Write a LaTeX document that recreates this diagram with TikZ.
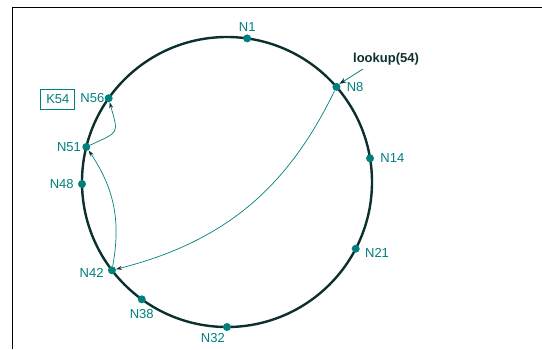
\documentclass[tikz,border=0pt]{standalone}
\usepackage{fontspec}
\setmainfont{Liberation Sans}
\usetikzlibrary{positioning, arrows.meta}
\definecolor{ringteal}{RGB}{0,128,124}
\definecolor{ringdark}{RGB}{12,48,48}

\begin{document}
\begin{tikzpicture}[x=1pt, y=1pt,
    every node/.style={font=\fontsize{13}{15}\selectfont},
    dot/.style={circle, fill=ringteal, inner sep=0pt, minimum size=8pt},
    lbl/.style={text=ringteal, inner sep=1pt},
    hop/.style={ringteal, line width=0.7pt, -{Stealth[length=6pt, width=4pt, color=ringdark]}}]
    \useasboundingbox (0,0) rectangle (542,-349);
    \draw[line width=1pt] (12,-349) -- (12,-7) -- (542,-7);

    % the ring
    \coordinate (c) at (227,-182);
    \draw[ringdark, line width=2.4pt] (c) circle (145);
    \foreach \nm/\ang in {n1/82, n8/41, n14/9.4, n21/-27.4, n32/-90, n38/234,
                          n42/217.5, n48/180.8, n51/166, n56/144.7}
        \node[dot] (\nm) at ([shift={(\ang:145)}]c) {};

    % node names
    \node[lbl, above=2pt of n1] (t1) {N1};
    \node[lbl, right=5pt of n8] (t8) {N8};
    \node[lbl, right=5pt of n14] (t14) {N14};
    \node[lbl, right=4pt of n21, yshift=-4pt] (t21) {N21};
    \node[lbl, anchor=north east] (t32) at ([xshift=-1pt, yshift=-1pt]n32.south) {N32};
    \node[lbl, below=5pt of n38] (t38) {N38};
    \node[lbl, left=3pt of n42, yshift=-3pt] (t42) {N42};
    \node[lbl, left=3pt of n48] (t48) {N48};
    \node[lbl, left=0pt of n51] (t51) {N51};
    \node[lbl, left=-1pt of n56] (t56) {N56};
    \node[lbl, draw=ringteal, line width=0.8pt, minimum width=34pt, minimum height=20pt,
          left=4pt of t56, yshift=-1pt] (k54) {K54};

    % lookup
    \node[text=ringdark, font=\fontsize{13}{15}\selectfont\bfseries] (look) at (386,-59) {lookup(54)};
    \coordinate (lk) at (363,-69);
    \draw[ringteal, line width=0.8pt, -{Stealth[length=7pt, width=5pt, color=ringdark]}] (lk) -- (n8.north east);

    % hops
    \draw[hop] (n8) to[bend left=25] (n42);
    \draw[hop] (n42) to[bend right=22] (n51);
    \draw[hop] (n51) to[out=25, in=-75, looseness=1.8] (n56);
\end{tikzpicture}
\end{document}
